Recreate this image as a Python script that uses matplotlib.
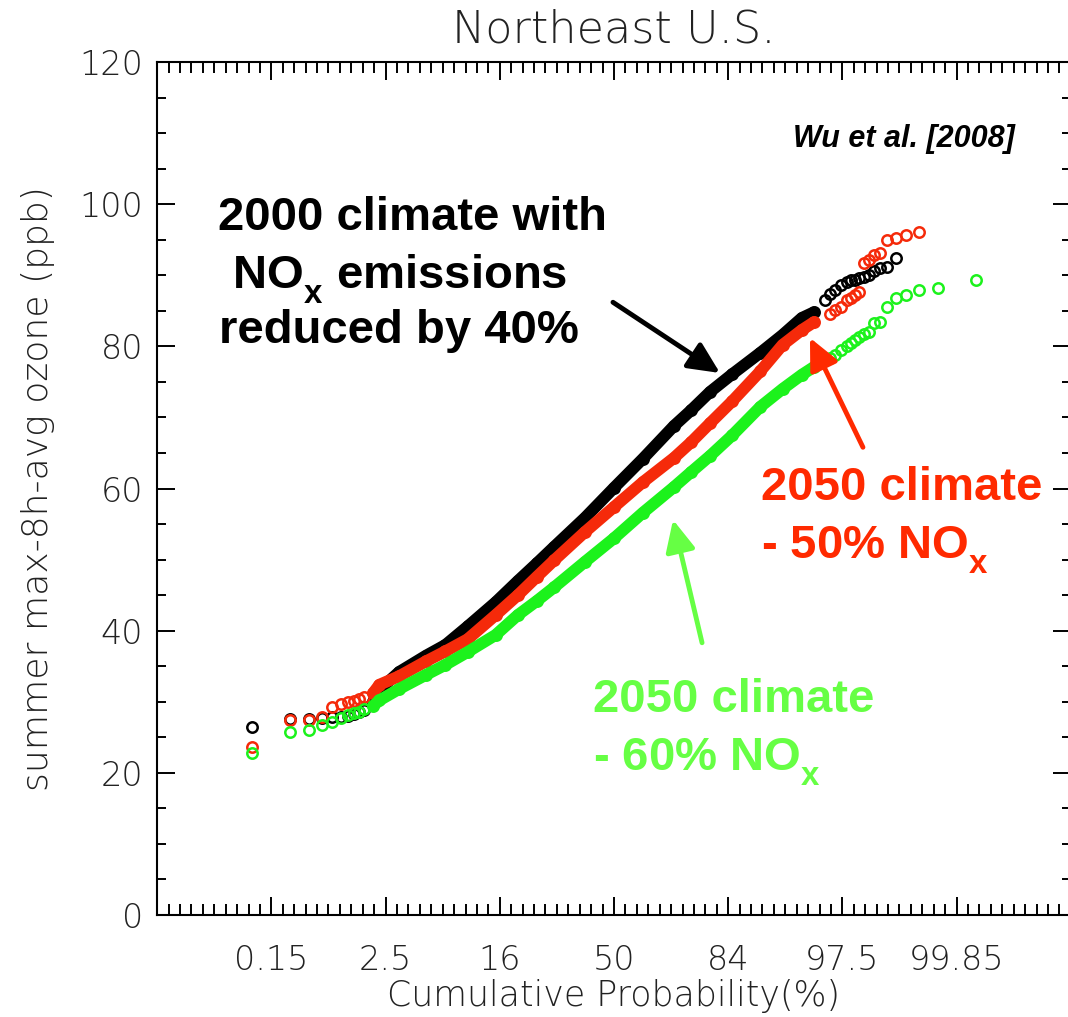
import math
import numpy as np
import matplotlib
matplotlib.use('Agg')
import matplotlib.pyplot as plt
import matplotlib._mathtext as mathtext_internal

# summer max-8h-avg ozone (ppb) vs cumulative probability (%), Northeast U.S.
# values (dense middle read at fixed percentiles)
pct_black = [0.076, 0.227, 0.379, 0.530, 0.682, 0.833, 0.985, 1.136, 1.288, 1.439, 1.742,
             2, 3, 5, 7, 10, 15, 20, 25, 30, 40, 50, 60, 70, 75, 80, 85, 90, 93, 95, 96,
             96.742, 97.045, 97.348, 97.652, 97.955, 98.106, 98.258, 98.409, 98.561,
             98.712, 98.864, 99.015, 99.167, 99.318]
o3_black = [26.4, 27.6, 27.6, 27.7, 27.9, 27.9, 28.0, 28.3, 28.5, 28.8, 30.0,
            31.7, 34.2, 36.5, 38.0, 40.6, 44.0, 47.0, 49.5, 51.8, 55.9, 60.1, 64.2, 68.8, 71.0,
            73.6, 76.1, 79.1, 81.6, 84.0, 84.8,
            86.5, 87.4, 87.9, 88.6, 89.1, 89.3, 89.4, 89.6, 89.8,
            90.0, 90.6, 91.0, 91.2, 92.4]

pct_red = [0.076, 0.227, 0.379, 0.530, 0.682, 0.833, 0.985, 1.136, 1.288, 1.439, 1.742,
           2, 3, 5, 7, 10, 15, 20, 25, 30, 40, 50, 60, 70, 75, 80, 85, 90, 93, 95, 96,
           97.045, 97.348, 97.652, 97.955, 98.106, 98.258, 98.409, 98.561, 98.712,
           98.864, 99.015, 99.167, 99.318, 99.470, 99.621]
o3_red = [23.6, 27.4, 27.4, 27.9, 29.3, 29.7, 30.0, 30.1, 30.4, 30.7, 31.2,
          32.4, 33.6, 35.7, 37.1, 38.8, 42.2, 45.0, 47.6, 49.9, 53.9, 57.4, 60.9, 64.3, 66.5,
          69.2, 72.3, 76.5, 80.2, 82.3, 83.4,
          84.6, 85.1, 85.6, 86.5, 86.8, 87.2, 87.6, 91.7, 92.1,
          92.9, 93.1, 95.0, 95.2, 95.7, 96.1]

pct_green = [0.076, 0.227, 0.379, 0.530, 0.682, 0.833, 0.985, 1.136, 1.288, 1.439, 1.742,
             2, 3, 5, 7, 10, 15, 20, 25, 30, 40, 50, 60, 70, 75, 80, 85, 90, 93, 95, 96,
             97.045, 97.348, 97.652, 97.955, 98.106, 98.258, 98.409, 98.561, 98.712,
             98.864, 99.015, 99.167, 99.318, 99.470, 99.621, 99.773, 99.924]
o3_green = [22.8, 25.7, 26.0, 26.7, 27.2, 27.7, 28.1, 28.4, 28.6, 29.0, 29.4,
            30.2, 31.8, 33.8, 35.2, 37.0, 39.4, 42.2, 44.2, 46.1, 49.7, 53.0, 56.6, 60.2, 62.3,
            64.6, 67.5, 71.5, 74.0, 76.0, 77.1,
            78.3, 78.8, 79.5, 80.0, 80.5, 80.9, 81.3, 81.7, 82.0,
            83.3, 83.4, 85.5, 86.8, 87.2, 87.9, 88.2, 89.3]

xtick_labels = ['0.15', '2.5', '16', '50', '84', '97.5', '99.85']

RED = '#f52a0a'
GREEN = '#1cf21c'
RED_TXT = '#ff2a00'
GREEN_TXT = '#66ff44'


def probit(pct):
    # inverse normal cdf by bisection (no scipy here)
    p = np.asarray(pct, dtype=float) / 100.0
    lo = np.full(p.shape, -6.0)
    hi = np.full(p.shape, 6.0)
    for _ in range(50):
        mid = 0.5 * (lo + hi)
        cdf = 0.5 * (1 + np.array([math.erf(m / math.sqrt(2)) for m in mid]))
        lo = np.where(cdf < p, mid, lo)
        hi = np.where(cdf < p, hi, mid)
    return 0.5 * (lo + hi)


# drop the x of NOx a bit lower, like in the original slide
try:
    mathtext_internal.FontConstantsBase.subdrop = 0.6
    mathtext_internal.FontConstantsBase.sub1 = 0.6
except AttributeError:
    pass

plt.rcParams['font.family'] = 'DejaVu Sans'
plt.rcParams['font.weight'] = 'light'
plt.rcParams['axes.labelweight'] = 'light'
plt.rcParams['mathtext.fontset'] = 'custom'
plt.rcParams['mathtext.bf'] = 'Liberation Sans:bold'
plt.rcParams['mathtext.rm'] = 'Liberation Sans:bold'

fig = plt.figure(figsize=(10.68, 10.17), dpi=100)
ax = fig.add_axes([0.14719, 0.10029, 0.85543, 0.83874])

for pct, o3, col in [(pct_black, o3_black, 'black'),
                     (pct_red, o3_red, RED),
                     (pct_green, o3_green, GREEN)]:
    x = probit(pct)
    y = np.asarray(o3)
    dense = (np.asarray(pct) >= 1.7) & (np.asarray(pct) <= 96)
    ax.plot(x[dense], y[dense], '-', color=col, lw=8.5,
            solid_capstyle='round', solid_joinstyle='round')
    ax.plot(x, y, 'o', mfc='none', mec=col, ms=7.5, mew=1.8)

ax.set_xlim(-4, 4)
ax.set_ylim(0, 120)
ax.set_xticks(np.arange(-3, 4))
ax.set_xticklabels(xtick_labels)
ax.set_xticks(np.arange(-40, 41) / 10, minor=True)
ax.set_yticks(np.arange(0, 121, 20))
ax.set_yticks(np.arange(0, 121, 5), minor=True)

ax.tick_params(which='both', direction='in', top=True, right=True,
               width=1.4, labelsize=24, labelcolor='#222222')
ax.tick_params(which='major', length=13)
ax.tick_params(axis='x', which='minor', length=8)
ax.tick_params(axis='y', which='minor', length=6.5)
ax.tick_params(axis='x', which='major', pad=21)
ax.tick_params(axis='y', which='major', pad=10)
for s in ax.spines.values():
    s.set_linewidth(1.5)

ax.set_xlabel('Cumulative Probability(%)', fontsize=25, color='#222222')
ax.xaxis.set_label_coords(0.5, -0.075)
ax.set_ylabel('summer max-8h-avg ozone (ppb)', fontsize=26, color='#222222')
ax.yaxis.set_label_coords(-0.112, 0.5)

fig.text(0.5749, 0.9705, 'Northeast U.S.', fontsize=32, ha='center', va='center',
         color='#222222')

bold = dict(family='Liberation Sans', weight='bold', fontsize=34)
ax.text(-1.769, 96.4, '2000 climate with', ha='center', va='baseline', color='black', **bold)
ax.text(-1.88, 88.2, r'NO$_\mathbf{x}$ emissions', ha='center', va='baseline', color='black', **bold)
ax.text(-1.88, 80.5, 'reduced by 40%', ha='center', va='baseline', color='black', **bold)

ax.text(1.287, 58.4, '2050 climate', ha='left', va='baseline', color=RED_TXT, **bold)
ax.text(1.287, 50.2, r'- 50% NO$_\mathbf{x}$', ha='left', va='baseline', color=RED_TXT, **bold)

ax.text(-0.184, 28.6, '2050 climate', ha='left', va='baseline', color=GREEN_TXT, **bold)
ax.text(-0.184, 20.4, r'- 60% NO$_\mathbf{x}$', ha='left', va='baseline', color=GREEN_TXT, **bold)

ax.text(2.539, 108.0, 'Wu et al. [2008]', ha='center', va='baseline',
        family='Liberation Sans', weight='bold', style='italic', fontsize=22)

for tail, tip, col in [((-0.009, 86.2), (0.928, 76.25), 'black'),
                       ((2.180, 65.8), (1.716, 81.2), RED_TXT),
                       ((0.771, 38.3), (0.517, 55.6), GREEN_TXT)]:
    ax.annotate('', xy=tip, xytext=tail,
                arrowprops=dict(arrowstyle='-|>,head_length=0.95,head_width=0.45',
                                mutation_scale=20, lw=3.5, color=col,
                                shrinkA=0, shrinkB=0))

fig.savefig('out.png', dpi=100)
